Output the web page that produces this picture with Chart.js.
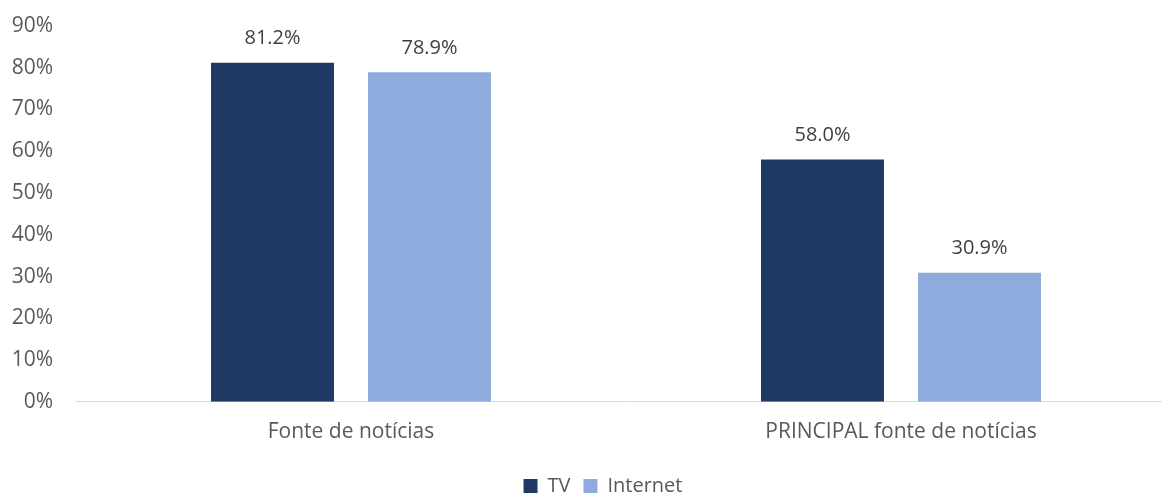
<!DOCTYPE html>
<html>
<head>
<meta charset="utf-8">
<script src="https://cdn.jsdelivr.net/npm/chart.js@4.4.0/dist/chart.umd.min.js"></script>
<style>
  html, body { margin: 0; padding: 0; background: #fff; overflow: hidden; }
  .wrap { position: relative; width: 1206px; height: 506px; }
</style>
</head>
<body>
<div class="wrap"><canvas id="chart"></canvas></div>
<script>
  const categories = ['Fonte de notícias', 'PRINCIPAL fonte de notícias'];
  const seriesNames = ['TV', 'Internet'];
  const tvValues = [81.2, 58.0];
  const internetValues = [78.9, 30.9];
  const yTicks = [0, 10, 20, 30, 40, 50, 60, 70, 80, 90];

  const FONT = '"Open Sans", sans-serif';
  const TEXT = '#595959';

  // value labels above each bar, one decimal + %
  const barLabels = {
    id: 'barLabels',
    afterDatasetsDraw(chart) {
      const ctx = chart.ctx;
      ctx.save();
      ctx.font = '20px ' + FONT;
      ctx.fillStyle = '#404040';
      ctx.textAlign = 'center';
      ctx.textBaseline = 'bottom';
      chart.data.datasets.forEach((ds, i) => {
        chart.getDatasetMeta(i).data.forEach((bar, j) => {
          ctx.fillText(ds.data[j].toFixed(1) + '%', bar.x, bar.y - 14);
        });
      });
      ctx.restore();
    },
  };

  new Chart(document.getElementById('chart'), {
    type: 'bar',
    data: {
      labels: categories,
      datasets: [
        { label: seriesNames[0], data: tvValues, backgroundColor: '#203864' },
        { label: seriesNames[1], data: internetValues, backgroundColor: '#8faadc' },
      ],
    },
    options: {
      responsive: true,
      maintainAspectRatio: false,
      animation: false,
      categoryPercentage: 0.571,
      barPercentage: 0.783,
      layout: { padding: { left: 0, right: 0, top: 26, bottom: 0 } },
      plugins: {
        legend: {
          position: 'bottom',
          labels: {
            color: TEXT,
            font: { family: FONT, size: 20 },
            boxWidth: 14,
            boxHeight: 14,
            padding: 13,
          },
        },
        tooltip: { enabled: false },
      },
      scales: {
        x: {
          grid: { display: false, drawTicks: false },
          border: { display: true, color: '#d9d9d9', width: 1 },
          ticks: { color: TEXT, font: { family: FONT, size: 21 }, padding: 18 },
        },
        y: {
          min: 0,
          max: 90,
          // fixed width; drop the label overhang so layout padding sets the top
          afterFit(s) { s.width = 76; s.paddingTop = 0; s.paddingBottom = 0; },
          afterBuildTicks(s) { s.ticks = yTicks.map(v => ({ value: v })); },
          grid: { display: false, drawTicks: false },
          border: { display: false },
          ticks: {
            color: TEXT,
            font: { family: FONT, size: 21 },
            padding: 23,
            callback: v => v + '%',
          },
        },
        // empty right-hand strip so the plot ends off-screen like the original crop
        pad: {
          position: 'right',
          display: true,
          afterFit(s) { s.width = 30; },
          grid: { display: false, drawTicks: false },
          border: { display: false },
          ticks: { display: false },
        },
      },
    },
    plugins: [barLabels],
  });
</script>
</body>
</html>
